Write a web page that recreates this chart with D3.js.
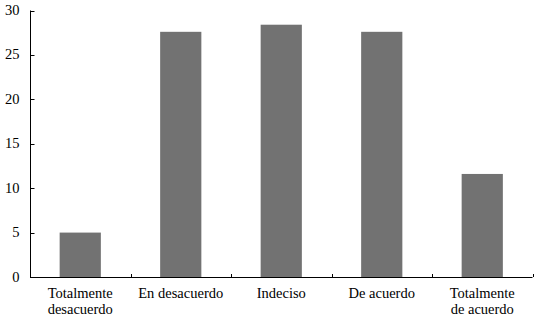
<!DOCTYPE html>
<html><head><meta charset="utf-8">
<script src="https://cdn.jsdelivr.net/npm/d3@7"></script>
<style>body{margin:0;background:#fff}svg{display:block}</style>
</head><body><svg id="c" width="536" height="319"></svg>
<script>
const categories = [["Totalmente","desacuerdo"],["En desacuerdo"],["Indeciso"],["De acuerdo"],["Totalmente","de acuerdo"]];
const values = [5.0, 27.6, 28.4, 27.6, 11.6];
const yTicks = [0,5,10,15,20,25,30];
const FONT = "'Liberation Serif', 'DejaVu Serif', serif";

const svg = d3.select("#c");
const mLeft = 30, mRight = 532.5, mTop = 10.5, mBottom = 277;
const x = d3.scaleBand().domain(d3.range(values.length)).range([mLeft, mRight]).paddingInner(0.59).paddingOuter(0.295);
const xb = d3.scaleBand().domain(d3.range(values.length)).range([mLeft, mRight]);
const y = d3.scaleLinear().domain([0,30]).range([mBottom, mTop]);

svg.selectAll("rect.bar").data(values).join("rect").attr("class","bar")
  .attr("x",(d,i)=>x(i)).attr("width",x.bandwidth())
  .attr("y",d=>y(d)).attr("height",d=>y(0)-y(d)).attr("fill","#727272");

// y axis
const ya = svg.append("g").attr("transform",`translate(${mLeft+0.5},0)`);
ya.append("line").attr("x1",0).attr("x2",0).attr("y1",y(30)).attr("y2",y(0)+0.5).attr("stroke","#000");
ya.selectAll("line.t").data(yTicks).join("line").attr("class","t")
  .attr("x1",0).attr("x2",4).attr("y1",d=>Math.round(y(d))+0.5).attr("y2",d=>Math.round(y(d))+0.5).attr("stroke","#000");
ya.selectAll("text").data(yTicks).join("text").attr("x",-11).attr("y",d=>y(d)+4.5)
  .attr("text-anchor","end").style("font-family",FONT).attr("font-size",14.5).text(d=>d);

// x axis
const xa = svg.append("g");
xa.append("line").attr("x1",mLeft).attr("x2",mRight).attr("y1",Math.round(mBottom)+0.5).attr("y2",Math.round(mBottom)+0.5).attr("stroke","#000");
xa.selectAll("line.t").data(d3.range(1,values.length+1)).join("line").attr("class","t")
  .attr("x1",i=>Math.round(xb(i-1)+xb.bandwidth())+0.5).attr("x2",i=>Math.round(xb(i-1)+xb.bandwidth())+0.5)
  .attr("y1",mBottom-3).attr("y2",mBottom).attr("stroke","#000");
categories.forEach((lines,i)=>{
  const t = xa.append("text").attr("x",xb(i)+xb.bandwidth()/2).attr("y",298).attr("text-anchor","middle").style("font-family",FONT).attr("font-size",14.5);
  lines.forEach((l,j)=>t.append("tspan").attr("x",xb(i)+xb.bandwidth()/2).attr("dy",j?16:0).text(l));
});
</script></body></html>
